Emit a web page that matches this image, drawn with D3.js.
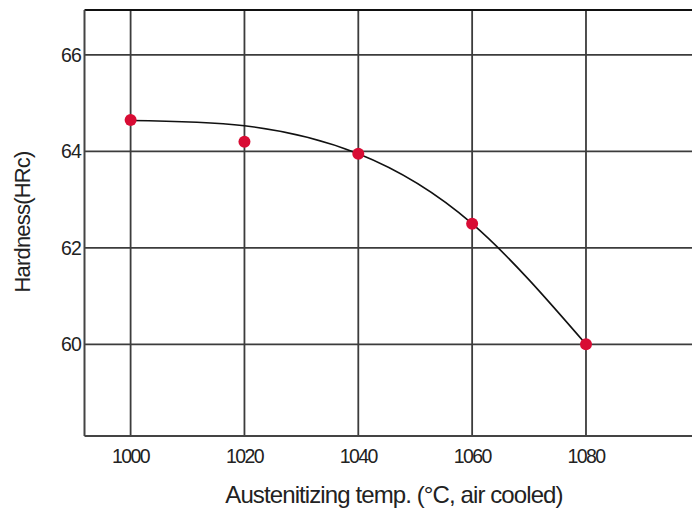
<!DOCTYPE html>
<html>
<head>
<meta charset="utf-8">
<script src="https://cdn.jsdelivr.net/npm/d3@7"></script>
<style>
  html, body { margin: 0; padding: 0; background: #fff; }
  svg { display: block; }
  text { font-family: "Liberation Sans", Arial, sans-serif; fill: #222; }
</style>
</head>
<body>
<svg id="chart" width="692" height="514"></svg>
<script>
// Measured hardness after air cooling from each austenitizing temperature
const temps = [1000, 1020, 1040, 1060, 1080];
const hardness = [64.65, 64.2, 63.95, 62.5, 60.0];

// Smoothed trend curve drawn through the measurements
const fitTemps = [1000, 1020, 1040, 1060, 1080];
const fitHardness = [64.64, 64.53, 63.95, 62.5, 60.0];

// Axis ticks
const xTicks = [1000, 1020, 1040, 1060, 1080];
const yTicks = [60, 62, 64, 66];

const svg = d3.select("#chart");
const plotLeft = 84.5, plotTop = 10, plotBottom = 436, plotRight = 693;

const x = d3.scaleLinear().domain([991.9, 1098.8]).range([plotLeft, plotRight]);
const y = d3.scaleLinear().domain([58.1, 66.93]).range([plotBottom, plotTop]);

const grid = svg.append("g");

// vertical grid lines
grid.selectAll("line.vx").data(xTicks).join("line")
  .attr("x1", d => x(d)).attr("x2", d => x(d))
  .attr("y1", plotTop).attr("y2", plotBottom)
  .attr("stroke", "#3c3c3c").attr("stroke-width", 1.8);

// horizontal grid lines
grid.selectAll("line.hy").data(yTicks).join("line")
  .attr("x1", plotLeft).attr("x2", plotRight)
  .attr("y1", d => y(d)).attr("y2", d => y(d))
  .attr("stroke", "#3c3c3c").attr("stroke-width", 1.8);

// frame: top, left, bottom
svg.append("line").attr("x1", plotLeft).attr("x2", plotRight).attr("y1", plotTop).attr("y2", plotTop)
  .attr("stroke", "#111").attr("stroke-width", 2);
svg.append("line").attr("x1", plotLeft).attr("x2", plotLeft).attr("y1", plotTop).attr("y2", plotBottom)
  .attr("stroke", "#444").attr("stroke-width", 2);
svg.append("line").attr("x1", plotLeft).attr("x2", plotRight).attr("y1", plotBottom).attr("y2", plotBottom)
  .attr("stroke", "#444").attr("stroke-width", 2);

// tick labels
svg.append("g").selectAll("text").data(xTicks).join("text")
  .attr("x", d => x(d)).attr("y", 463)
  .attr("text-anchor", "middle")
  .attr("font-size", 19.5).attr("letter-spacing", -1.6)
  .text(d => d);

svg.append("g").selectAll("text").data(yTicks).join("text")
  .attr("x", 81).attr("y", d => y(d)).attr("dy", "0.36em")
  .attr("text-anchor", "end")
  .attr("font-size", 19.5).attr("letter-spacing", -0.8)
  .text(d => d);

// axis titles
svg.append("text")
  .attr("x", 394).attr("y", 503)
  .attr("text-anchor", "middle")
  .attr("font-size", 24).attr("letter-spacing", -0.9)
  .text("Austenitizing temp. (°C, air cooled)");

svg.append("text")
  .attr("transform", "translate(30,222) rotate(-90)")
  .attr("text-anchor", "middle")
  .attr("font-size", 22).attr("letter-spacing", -0.8)
  .text("Hardness(HRc)");

// trend curve
const line = d3.line()
  .x((d, i) => x(fitTemps[i]))
  .y(d => y(d))
  .curve(d3.curveNatural);

svg.append("path").datum(fitHardness)
  .attr("d", line)
  .attr("fill", "none")
  .attr("stroke", "#111")
  .attr("stroke-width", 1.6);

// measured points
svg.append("g").selectAll("circle").data(hardness).join("circle")
  .attr("cx", (d, i) => x(temps[i]))
  .attr("cy", d => y(d))
  .attr("r", 6)
  .attr("fill", "#d80c34");
</script>
</body>
</html>
